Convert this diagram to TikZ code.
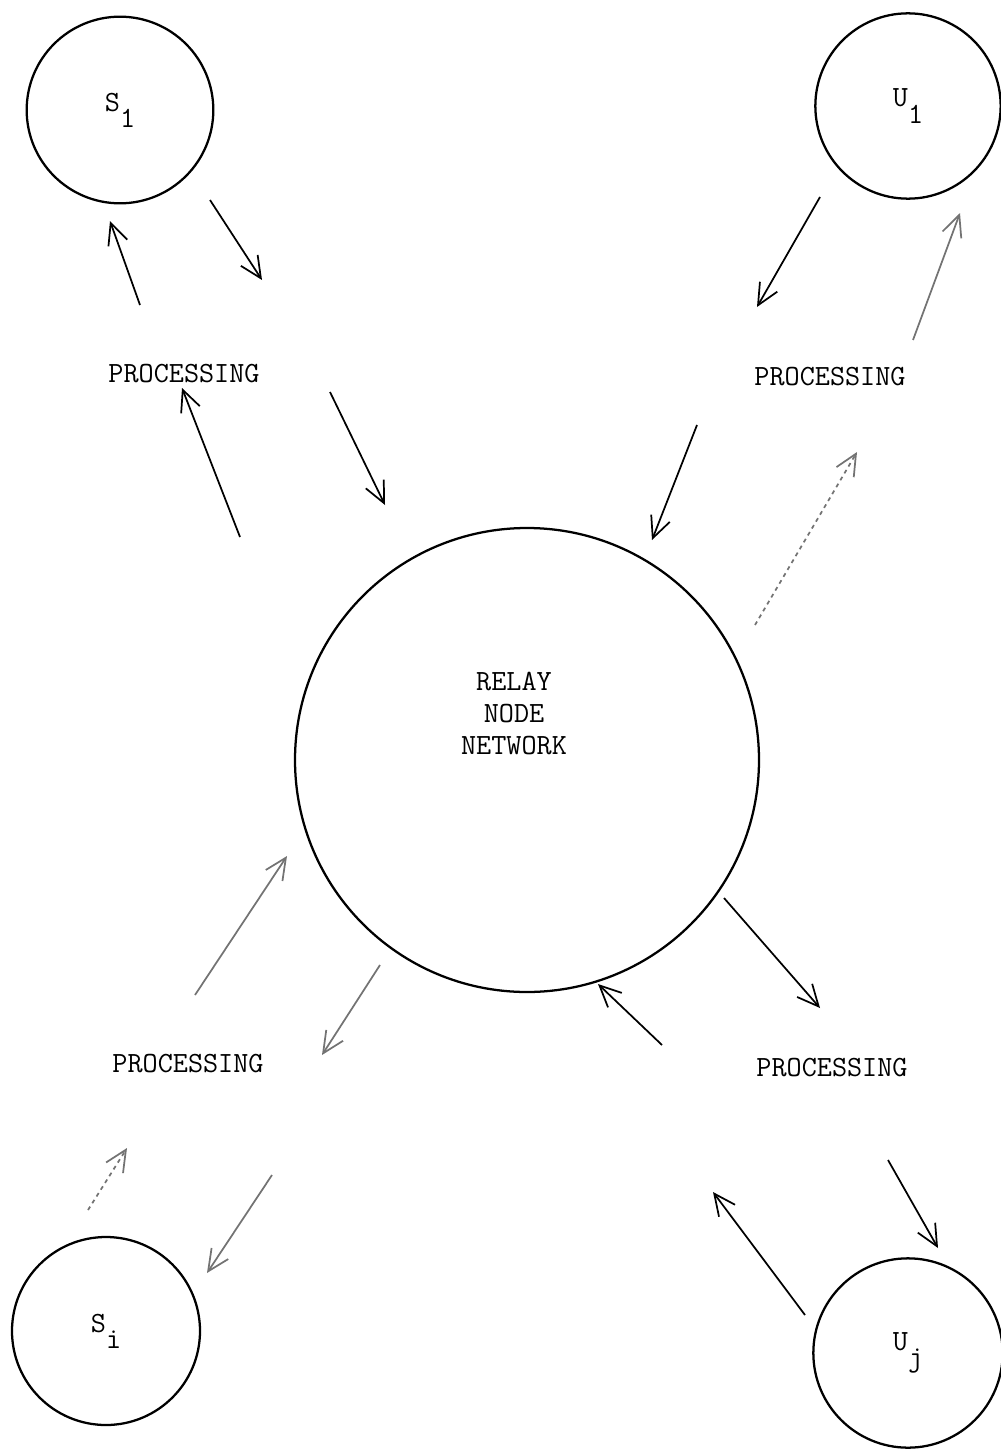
\documentclass[tikz,border=0pt]{standalone}
\usepackage{tikz}
\usetikzlibrary{arrows.meta}
\newcommand{\lowsub}[2]{#1\raisebox{-0.55em}{#2}}
\tikzset{
  bubble/.style={draw, circle, line width=1.7pt, inner sep=0pt, font=\fontsize{22}{26}\selectfont\ttfamily},
  caption/.style={inner sep=0.75pt, align=center, font=\fontsize{22}{26}\selectfont\ttfamily},
  flow/.style={line width=1.3pt, -{Straight Barb[length=16pt,width=15pt,line width=1.3pt]}},
  faint/.style={flow, draw=black!55},
}
\begin{document}
\begin{tikzpicture}[x=0.75pt,y=0.75pt,yscale=-1,xscale=1]
\useasboundingbox (0,0) rectangle (1000,1452);
%Shape: Circles
\node[bubble, minimum size=140pt] (s1) at (120,110) {\lowsub{S}{1}};
\node[bubble, minimum size=139pt] (u1) at (908,106) {\lowsub{U}{1}};
\node[bubble, minimum size=141pt] (si) at (106,1331) {\lowsub{S}{i}};
\node[bubble, minimum size=142pt] (uj) at (908,1353) {\lowsub{U}{j}};
\node[bubble, minimum size=348pt] (relay) at (527,760) {};
% Text Node
\node[caption] (net) at (514,714) {RELAY\\[-2pt]NODE\\[-2pt]NETWORK};
\node[caption] (ps1) at (184,374) {PROCESSING};
\node[caption] (pu1) at (830,377) {PROCESSING};
\node[caption] (psi) at (188,1064) {PROCESSING};
\node[caption] (puj) at (832,1068) {PROCESSING};
%Arrow ends
\coordinate (ps1-up) at (140,305);   \coordinate (s1-in) at (110,221);
\coordinate (s1-out) at (210,200);   \coordinate (ps1-in) at (262,280);
\coordinate (relay-s1) at (240,537); \coordinate (ps1-bot) at (182,388);
\coordinate (ps1-dn) at (330,392);   \coordinate (relay-in1) at (385,505);
\coordinate (u1-out) at (820,197);   \coordinate (pu1-in) at (757,307);
\coordinate (pu1-up) at (913,340);   \coordinate (u1-in) at (960,213);
\coordinate (pu1-dn) at (697,425);   \coordinate (relay-in2) at (652,540);
\coordinate (relay-u1) at (755,625); \coordinate (pu1-bot) at (857,452);
\coordinate (psi-up) at (195,995);   \coordinate (relay-in3) at (287,856);
\coordinate (relay-si) at (380,965); \coordinate (psi-top) at (322,1055);
\coordinate (si-out) at (88,1210);   \coordinate (psi-in) at (127,1148);
\coordinate (psi-dn) at (272,1175);  \coordinate (si-in) at (207,1273);
\coordinate (relay-uj) at (724,898); \coordinate (puj-top) at (820,1008);
\coordinate (puj-up) at (662,1045);  \coordinate (relay-in4) at (598,984);
\coordinate (puj-dn) at (888,1160);  \coordinate (uj-in) at (938,1248);
\coordinate (uj-out) at (805,1315);  \coordinate (puj-in) at (713,1192);
%Straight Lines
\draw[flow] (ps1-up) -- (s1-in);
\draw[flow] (s1-out) -- (ps1-in);
\draw[flow] (relay-s1) -- (ps1-bot);
\draw[flow] (ps1-dn) -- (relay-in1);
\draw[flow] (u1-out) -- (pu1-in);
\draw[faint] (pu1-up) -- (u1-in);
\draw[flow] (pu1-dn) -- (relay-in2);
\draw[faint, dashed] (relay-u1) -- (pu1-bot);
\draw[faint] (psi-up) -- (relay-in3);
\draw[faint] (relay-si) -- (psi-top);
\draw[faint, dashed] (si-out) -- (psi-in);
\draw[faint] (psi-dn) -- (si-in);
\draw[flow] (relay-uj) -- (puj-top);
\draw[flow] (puj-up) -- (relay-in4);
\draw[flow] (puj-dn) -- (uj-in);
\draw[flow] (uj-out) -- (puj-in);
\end{tikzpicture}
\end{document}
